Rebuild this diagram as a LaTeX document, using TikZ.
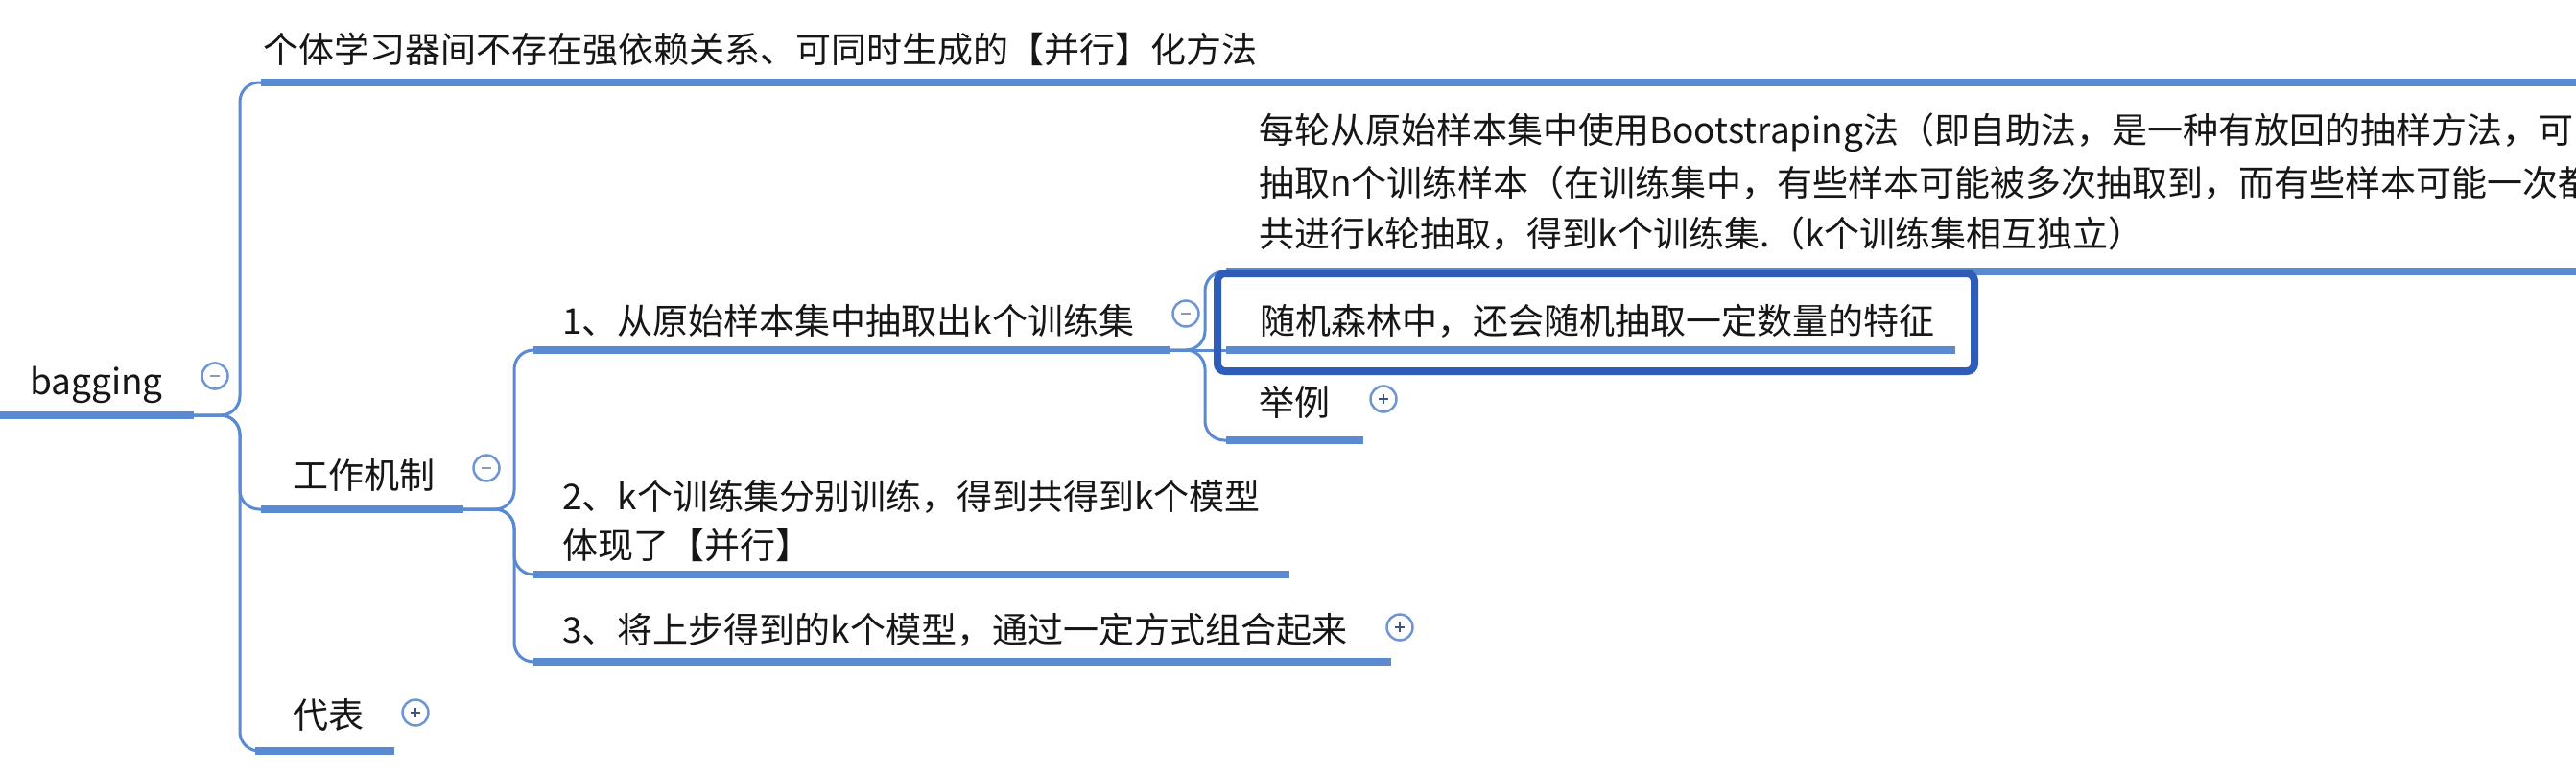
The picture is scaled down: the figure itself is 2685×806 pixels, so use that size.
\documentclass[tikz,border=0pt]{standalone}
\usepackage{fontspec}
\setmainfont{Noto Sans CJK SC}
\definecolor{lineblue}{HTML}{5A8AD2}
\definecolor{selblue}{HTML}{2E5CB8}
\definecolor{circblue}{HTML}{7096D2}
\definecolor{signgray}{HTML}{8C9AB0}
\definecolor{signdark}{HTML}{3F5478}
\definecolor{txt}{HTML}{161616}
\tikzset{
  lbl/.style={anchor=west, inner sep=0pt, text height=0.88em, text depth=0.12em,
    font=\fontsize{37}{45}\selectfont, text=txt, yshift=-9pt},
  uline/.style={line width=8pt, color=lineblue},
  conn/.style={line width=3pt, color=lineblue, rounded corners=20pt},
  togglecirc/.style={circle, draw=circblue, line width=2.5pt, fill=white,
    minimum size=27pt, inner sep=0pt},
  selbox/.style={draw=selblue, line width=8pt, rounded corners=8pt},
}
\begin{document}
\begin{tikzpicture}[x=1pt, y=-1pt]
\useasboundingbox (0,0) rectangle (2685,806);
\clip (0,0) rectangle (2685,806);
\fill[white] (0,0) rectangle (2685,806);

% ---------- coordinates of underlines ----------
\coordinate (rootS) at (0,433);    \coordinate (rootE) at (202,433);
\coordinate (topS)  at (272,86);   \coordinate (topE)  at (2700,86);
\coordinate (workS) at (272,531);  \coordinate (workE) at (483,531);
\coordinate (repS)  at (266,783);  \coordinate (repE)  at (411,783);
\coordinate (c1S) at (556,365);    \coordinate (c1E) at (1219,365);
\coordinate (c2S) at (556,599);    \coordinate (c2E) at (1344,599);
\coordinate (c3S) at (556,690);    \coordinate (c3E) at (1450,690);
\coordinate (d1S) at (1278,283);   \coordinate (d1E) at (2700,283);
\coordinate (d2S) at (1278,365);   \coordinate (d2E) at (2038,365);
\coordinate (d3S) at (1278,459);   \coordinate (d3E) at (1421,459);

% ---------- connectors ----------
\draw[conn] (rootE) -- (250,433) -- (250,86) -- (topS);
\draw[conn] (rootE) -- (250,433) -- (250,531) -- (workS);
\draw[conn] (rootE) -- (250,433) -- (250,783) -- (repS);

\draw[conn] (workE) -- (536,531) -- (536,365) -- (c1S);
\draw[conn] (workE) -- (536,531) -- (536,599) -- (c2S);
\draw[conn] (workE) -- (536,531) -- (536,690) -- (c3S);

\draw[conn] (c1E) -- (1256,365) -- (1256,283) -- (d1S);
\draw[conn] (c1E) -- (d2S);
\draw[conn] (c1E) -- (1256,365) -- (1256,459) -- (d3S);

% ---------- underlines ----------
\draw[uline] (rootS) -- (rootE);
\draw[uline] (topS) -- (topE);
\draw[uline] (workS) -- (workE);
\draw[uline] (repS) -- (repE);
\draw[uline] (c1S) -- (c1E);
\draw[uline] (c2S) -- (c2E);
\draw[uline] (c3S) -- (c3E);
\draw[uline] (d1S) -- (d1E);
\draw[uline] (d2S) -- (d2E);
\draw[uline] (d3S) -- (d3E);

% ---------- selection box ----------
\draw[selbox] (1269,285) rectangle (2058,387);

% ---------- texts ----------
\node[lbl] (root) at (31,399) {bagging};
\node[lbl] (top) at (274,53) {个体学习器间不存在强依赖关系、可同时生成的【并行】化方法};
\node[lbl] (work) at (305,497) {工作机制};
\node[lbl] (rep) at (305,747) {代表};
\node[lbl] (c1) at (586,336) {1、从原始样本集中抽取出k个训练集};
\node[lbl] (c2a) at (586,519) {2、k个训练集分别训练，得到共得到k个模型};
\node[lbl] (c2b) at (586,570) {体现了【并行】};
\node[lbl] (c3) at (586,658) {3、将上步得到的k个模型，通过一定方式组合起来};
\node[lbl] (d1a) at (1312,137) {每轮从原始样本集中使用Bootstraping法（即自助法，是一种有放回的抽样方法，可};
\node[lbl] (d1b) at (1312,192) {抽取n个训练样本（在训练集中，有些样本可能被多次抽取到，而有些样本可能一次都};
\node[lbl] (d1c) at (1312,245) {共进行k轮抽取，得到k个训练集.（k个训练集相互独立）};
\node[lbl] (d2) at (1313,336) {随机森林中，还会随机抽取一定数量的特征};
\node[lbl] (d3) at (1312,421) {举例};

% ---------- toggles ----------
\node[togglecirc] (tRoot) at (224,392) {};
\draw[signgray, line width=2.5pt] ([xshift=-5pt]tRoot.center) -- ([xshift=5pt]tRoot.center);
\node[togglecirc] (tWork) at (507,488) {};
\draw[signgray, line width=2.5pt] ([xshift=-5pt]tWork.center) -- ([xshift=5pt]tWork.center);
\node[togglecirc] (tC1) at (1236,327) {};
\draw[signgray, line width=2.5pt] ([xshift=-5pt]tC1.center) -- ([xshift=5pt]tC1.center);
\node[togglecirc] (tC3) at (1459,654) {};
\draw[signdark, line width=2.5pt] ([xshift=-5pt]tC3.center) -- ([xshift=5pt]tC3.center)
  ([yshift=-5pt]tC3.center) -- ([yshift=5pt]tC3.center);
\node[togglecirc] (tD3) at (1442,416) {};
\draw[signdark, line width=2.5pt] ([xshift=-5pt]tD3.center) -- ([xshift=5pt]tD3.center)
  ([yshift=-5pt]tD3.center) -- ([yshift=5pt]tD3.center);
\node[togglecirc] (tRep) at (433,743) {};
\draw[signdark, line width=2.5pt] ([xshift=-5pt]tRep.center) -- ([xshift=5pt]tRep.center)
  ([yshift=-5pt]tRep.center) -- ([yshift=5pt]tRep.center);
\end{tikzpicture}
\end{document}
